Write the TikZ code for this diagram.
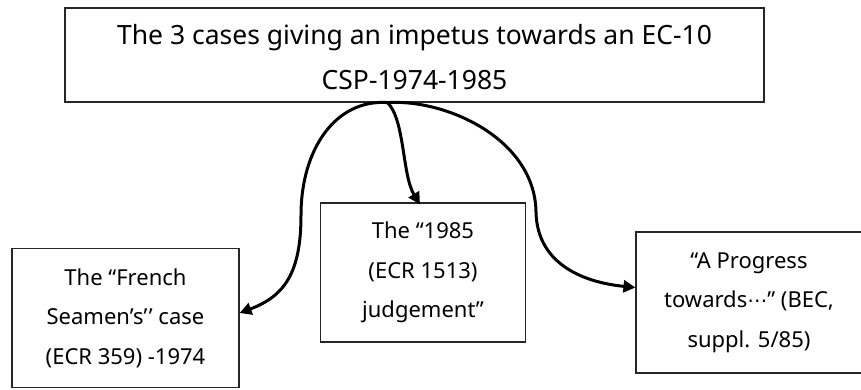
\documentclass[tikz,border=0pt]{standalone}
\usepackage{fontspec}
\setmainfont{Noto Sans}
\newfontfamily\symfont{DejaVu Sans}
\usetikzlibrary{arrows.meta}
\begin{document}
\begin{tikzpicture}[x=1pt,y=-1pt,
  box/.style={draw=black!85, line width=1.1pt, align=center, inner sep=0pt},
  caselabel/.style={font=\fontsize{22}{39.5}\selectfont},
  titlelabel/.style={font=\fontsize{26.5}{45}\selectfont},
  link/.style={line width=3pt, -{Triangle[length=12pt,width=12pt]}}]
\useasboundingbox (0,0) rectangle (861,389);

% title box and the three cases
\node[box, titlelabel, minimum width=699pt, minimum height=94pt] (title) at (414.5,55)
  {\rule{0pt}{24pt}The 3 cases giving an impetus towards an EC-10\\CSP-1974-1985};
\node[box, caselabel, minimum width=227pt, minimum height=139pt] (french) at (125.5,318)
  {The “French\\Seamen’s’\kern1.5pt’ case\\(ECR 359) -1974};
\node[box, caselabel, minimum width=205pt, minimum height=139pt] (judge) at (423,272.5)
  {The “1985\\(ECR 1513)\\judgement”};
\node[box, caselabel, minimum width=226pt, minimum height=141pt] (progress) at (749,302.5)
  {“A Progress\\towards{\symfont\fontsize{20}{20}\selectfont ⋯}” (BEC,\\suppl. 5/85)};

% common origin of the connectors
\coordinate (src) at ([xshift=-27pt]title.south);

% connectors
\draw[link] (src) .. controls (335,99) and (301,150) .. (301,215)
  .. controls (301,272) and (285,296) .. ([yshift=5pt]french.east);
\draw[link] (src) .. controls (405,120) and (402,175) .. ([xshift=-3pt,yshift=-2pt]judge.north);
\draw[link] (src) .. controls (448,99) and (535,140) .. (536,212)
  .. controls (537,262) and (580,282) .. ([yshift=15pt]progress.west);
\end{tikzpicture}
\end{document}
